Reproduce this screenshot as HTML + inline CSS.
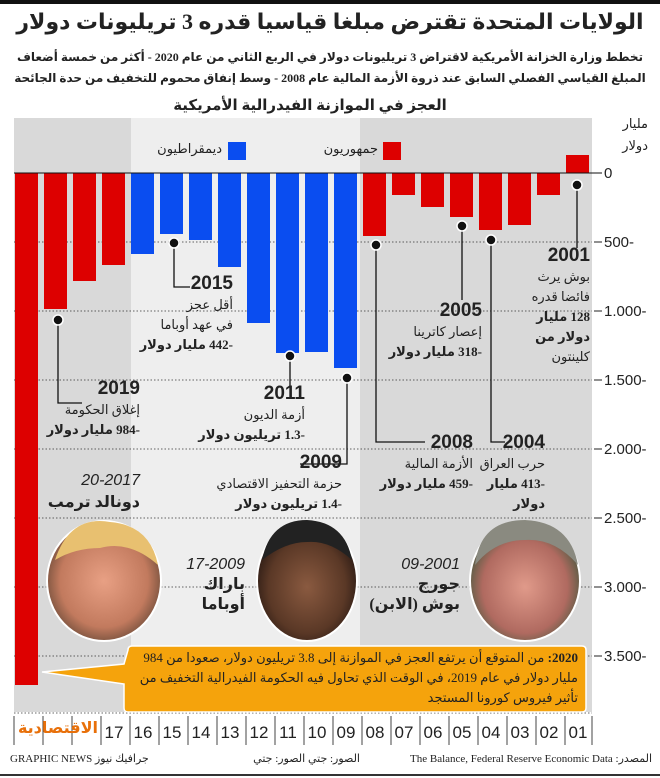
<!DOCTYPE html>
<html><head><meta charset="utf-8"><style>
body{margin:0;background:#fff;}
#w{position:relative;width:660px;height:778px;overflow:hidden;font-family:"Liberation Serif","DejaVu Sans",serif;color:#222;}
.t{position:absolute;direction:rtl;white-space:nowrap;}
.b{font-weight:bold;}
.y{font-family:"Liberation Sans",sans-serif;font-weight:bold;font-size:19px;}
.n{font-size:13px;line-height:20px;}
</style></head><body><div id="w">
<svg width="660" height="778" style="position:absolute;left:0;top:0">
<rect x="0" y="0" width="660" height="4" fill="#111"/>
<rect x="14" y="118" width="578" height="594" fill="#d9d9d9"/>
<rect x="131" y="118" width="229" height="594" fill="#eeeeee"/>
<g stroke="#333" stroke-dasharray="1.5,2" stroke-width="0.8">
<line x1="14" x2="592" y1="242" y2="242"/><line x1="14" x2="592" y1="311" y2="311"/>
<line x1="14" x2="592" y1="380" y2="380"/><line x1="14" x2="592" y1="449" y2="449"/>
<line x1="14" x2="592" y1="518" y2="518"/><line x1="14" x2="592" y1="587" y2="587"/>
<line x1="14" x2="592" y1="656" y2="656"/>
<line x1="14" x2="592" y1="713" y2="713"/>
</g>
<g stroke="#222" stroke-width="1">
<line x1="594" x2="602" y1="242" y2="242"/><line x1="594" x2="602" y1="311" y2="311"/>
<line x1="594" x2="602" y1="380" y2="380"/><line x1="594" x2="602" y1="449" y2="449"/>
<line x1="594" x2="602" y1="518" y2="518"/><line x1="594" x2="602" y1="587" y2="587"/>
<line x1="594" x2="602" y1="656" y2="656"/>
</g>
<g id="bars">
<rect x="566" y="155" width="23" height="18" fill="#dd0000"/>
<rect x="537" y="173" width="23" height="22" fill="#dd0000"/>
<rect x="508" y="173" width="23" height="52" fill="#dd0000"/>
<rect x="479" y="173" width="23" height="57" fill="#dd0000"/>
<rect x="450" y="173" width="23" height="44" fill="#dd0000"/>
<rect x="421" y="173" width="23" height="34" fill="#dd0000"/>
<rect x="392" y="173" width="23" height="22" fill="#dd0000"/>
<rect x="363" y="173" width="23" height="63" fill="#dd0000"/>
<rect x="334" y="173" width="23" height="195" fill="#0a4df0"/>
<rect x="305" y="173" width="23" height="179" fill="#0a4df0"/>
<rect x="276" y="173" width="23" height="180" fill="#0a4df0"/>
<rect x="247" y="173" width="23" height="150" fill="#0a4df0"/>
<rect x="218" y="173" width="23" height="94" fill="#0a4df0"/>
<rect x="189" y="173" width="23" height="67" fill="#0a4df0"/>
<rect x="160" y="173" width="23" height="61" fill="#0a4df0"/>
<rect x="131" y="173" width="23" height="81" fill="#0a4df0"/>
<rect x="102" y="173" width="23" height="92" fill="#dd0000"/>
<rect x="73" y="173" width="23" height="108" fill="#dd0000"/>
<rect x="44" y="173" width="23" height="136" fill="#dd0000"/>
<rect x="15" y="173" width="23" height="512" fill="#dd0000"/>
</g>
<line x1="14" x2="602" y1="173" y2="173" stroke="#111" stroke-width="1"/>
<rect x="228" y="142" width="18" height="18" fill="#0a4df0"/>
<rect x="383" y="142" width="18" height="18" fill="#dd0000"/>
<g stroke="#111" stroke-width="1.3" fill="none">
<polyline points="577,185 577,248"/>
<polyline points="462,226 462,300"/>
<polyline points="491,240 491,442 505,442"/>
<polyline points="376,245 376,442 425,442"/>
<polyline points="347,378 347,464 300,464"/>
<polyline points="290,356 290,386"/>
<polyline points="174,243 174,287 190,287"/>
<polyline points="58,320 58,403 82,403"/>
</g>
<g fill="#111" stroke="#fff" stroke-width="1.5">
<circle cx="577" cy="185" r="5"/><circle cx="462" cy="226" r="5"/><circle cx="491" cy="240" r="5"/>
<circle cx="376" cy="245" r="5"/><circle cx="347" cy="378" r="5"/><circle cx="290" cy="356" r="5"/>
<circle cx="174" cy="243" r="5"/><circle cx="58" cy="320" r="5"/>
</g>
<defs>
<radialGradient id="fT" cx="50%" cy="50%" r="55%"><stop offset="0" stop-color="#e8a084"/><stop offset="0.7" stop-color="#c27a5e"/><stop offset="1" stop-color="#6a4a38"/></radialGradient>
<radialGradient id="fO" cx="50%" cy="55%" r="55%"><stop offset="0" stop-color="#8a5a40"/><stop offset="0.7" stop-color="#5a3826"/><stop offset="1" stop-color="#2a1a14"/></radialGradient>
<radialGradient id="fB" cx="50%" cy="55%" r="55%"><stop offset="0" stop-color="#e09a8a"/><stop offset="0.7" stop-color="#b06a60"/><stop offset="1" stop-color="#4a5a40"/></radialGradient>
</defs>
<ellipse cx="104" cy="581" rx="57" ry="60" fill="url(#fT)" stroke="#fff" stroke-width="2"/>
<path d="M55 560 Q70 515 110 522 Q150 525 158 565 Q130 540 100 548 Q75 548 55 560Z" fill="#e8c070"/>
<ellipse cx="307" cy="581" rx="50" ry="60" fill="url(#fO)" stroke="#fff" stroke-width="2"/>
<path d="M262 560 Q270 520 307 520 Q345 522 352 560 Q330 540 307 542 Q285 542 262 560Z" fill="#222"/>
<ellipse cx="525" cy="581" rx="55" ry="60" fill="url(#fB)" stroke="#fff" stroke-width="2"/>
<path d="M475 565 Q480 520 525 520 Q570 522 578 565 Q555 538 525 540 Q495 540 475 565Z" fill="#8a8a80"/>
<path d="M128 650 Q128 646 132 646 L582 646 Q586 646 586 650 L586 708 Q586 712 582 712 L128 712 Q124 712 124 708 L124 684 L42 672 L124 664 Z" fill="#f5a30c" stroke="#fff" stroke-width="1.5"/>
<g stroke="#444" stroke-width="1">
<line x1="14" x2="14" y1="716" y2="745"/><line x1="43" x2="43" y1="716" y2="745"/><line x1="72" x2="72" y1="716" y2="745"/>
<line x1="101" x2="101" y1="716" y2="745"/><line x1="130" x2="130" y1="716" y2="745"/><line x1="159" x2="159" y1="716" y2="745"/>
<line x1="188" x2="188" y1="716" y2="745"/><line x1="217" x2="217" y1="716" y2="745"/><line x1="246" x2="246" y1="716" y2="745"/>
<line x1="275" x2="275" y1="716" y2="745"/><line x1="304" x2="304" y1="716" y2="745"/><line x1="333" x2="333" y1="716" y2="745"/>
<line x1="362" x2="362" y1="716" y2="745"/><line x1="391" x2="391" y1="716" y2="745"/><line x1="420" x2="420" y1="716" y2="745"/>
<line x1="449" x2="449" y1="716" y2="745"/><line x1="478" x2="478" y1="716" y2="745"/><line x1="507" x2="507" y1="716" y2="745"/>
<line x1="536" x2="536" y1="716" y2="745"/><line x1="565" x2="565" y1="716" y2="745"/><line x1="592" x2="592" y1="716" y2="745"/>
</g>
<line x1="0" x2="660" y1="775" y2="775" stroke="#333" stroke-width="2"/>
<g font-family="Liberation Sans, sans-serif" font-size="17" fill="#222" text-anchor="middle">
<text x="578" y="738">01</text><text x="549" y="738">02</text><text x="520" y="738">03</text><text x="491" y="738">04</text>
<text x="462" y="738">05</text><text x="433" y="738">06</text><text x="404" y="738">07</text><text x="375" y="738">08</text>
<text x="346" y="738">09</text><text x="317" y="738">10</text><text x="288" y="738">11</text><text x="259" y="738">12</text>
<text x="230" y="738">13</text><text x="201" y="738">14</text><text x="172" y="738">15</text><text x="143" y="738">16</text>
<text x="114" y="738">17</text>
</g>
<g font-family="Liberation Sans, sans-serif" font-size="15" fill="#222">
<text x="604" y="178">0</text><text x="604" y="247">500-</text><text x="604" y="316">1.000-</text>
<text x="604" y="385">1.500-</text><text x="604" y="454">2.000-</text><text x="604" y="523">2.500-</text>
<text x="604" y="592">3.000-</text><text x="604" y="661">3.500-</text>
</g>
</svg>
<div class="t b" style="left:0;width:660px;top:6px;text-align:center;font-size:22px;line-height:32px;">الولايات المتحدة تقترض مبلغا قياسيا قدره 3 تريليونات دولار</div>
<div class="t b" style="left:4px;width:652px;top:47px;text-align:center;font-size:12px;line-height:21px;white-space:normal;">تخطط وزارة الخزانة الأمريكية لاقتراض 3 تريليونات دولار في الربع الثاني من عام 2020 - أكثر من خمسة أضعاف المبلغ القياسي الفصلي السابق عند ذروة الأزمة المالية عام 2008 - وسط إنفاق محموم للتخفيف من حدة الجائحة</div>
<div class="t b" style="left:160px;width:300px;top:96px;text-align:center;font-size:15px;">العجز في الموازنة الفيدرالية الأمريكية</div>
<div class="t" style="left:600px;width:48px;top:113px;text-align:right;line-height:22px;font-size:13px;">مليار<br>دولار</div>
<div class="t" style="left:140px;width:82px;top:141px;text-align:right;font-size:13px;">ديمقراطيون</div>
<div class="t" style="left:300px;width:78px;top:141px;text-align:right;font-size:13px;">جمهوريون</div>

<div class="t" style="left:520px;width:70px;top:245px;text-align:right;"><div class="y">2001</div><div class="n">بوش يرث<br>فائضا قدره<br><b>128 مليار<br>دولار من</b><br>كلينتون</div></div>
<div class="t" style="left:380px;width:102px;top:300px;text-align:right;"><div class="y">2005</div><div class="n">إعصار كاترينا<br><b>-318 مليار دولار</b></div></div>
<div class="t" style="left:470px;width:75px;top:432px;text-align:right;"><div class="y">2004</div><div class="n">حرب العراق<br><b>-413 مليار<br>دولار</b></div></div>
<div class="t" style="left:360px;width:113px;top:432px;text-align:right;"><div class="y">2008</div><div class="n">الأزمة المالية<br><b>-459 مليار دولار</b></div></div>
<div class="t" style="left:190px;width:152px;top:452px;text-align:right;"><div class="y">2009</div><div class="n">حزمة التحفيز الاقتصادي<br><b>-1.4 تريليون دولار</b></div></div>
<div class="t" style="left:180px;width:125px;top:383px;text-align:right;"><div class="y">2011</div><div class="n">أزمة الديون<br><b>-1.3 تريليون دولار</b></div></div>
<div class="t" style="left:110px;width:123px;top:273px;text-align:right;"><div class="y">2015</div><div class="n">أقل عجز<br>في عهد أوباما<br><b>-442 مليار دولار</b></div></div>
<div class="t" style="left:30px;width:110px;top:378px;text-align:right;"><div class="y">2019</div><div class="n">إغلاق الحكومة<br><b>-984 مليار دولار</b></div></div>
<div class="t" style="left:40px;width:100px;top:470px;text-align:right;font-size:16px;line-height:22px;"><i style="font-family:'Liberation Sans',sans-serif">20-2017</i><br><b>دونالد ترمب</b></div>
<div class="t" style="left:165px;width:80px;top:555px;text-align:right;font-size:16px;line-height:20px;"><i style="font-family:'Liberation Sans',sans-serif">17-2009</i><br><b>باراك<br>أوباما</b></div>
<div class="t" style="left:360px;width:100px;top:555px;text-align:right;font-size:16px;line-height:20px;"><i style="font-family:'Liberation Sans',sans-serif">09-2001</i><br><b>جورج<br>بوش (الابن)</b></div>
<div class="t" style="left:130px;width:448px;top:648px;text-align:right;font-size:13px;line-height:20px;white-space:normal;"><b>2020:</b> من المتوقع أن يرتفع العجز في الموازنة إلى 3.8 تريليون دولار، صعودا من 984 مليار دولار في عام 2019، في الوقت الذي تحاول فيه الحكومة الفيدرالية التخفيف من تأثير فيروس كورونا المستجد</div>
<div class="t b" style="left:14px;width:88px;top:718px;text-align:center;font-size:16px;color:#e8700a;">الاقتصادية</div>
<div class="t" style="left:380px;width:272px;top:752px;text-align:right;font-size:11px;">المصدر: The Balance, Federal Reserve Economic Data</div>
<div class="t" style="left:230px;width:130px;top:752px;text-align:right;font-size:11px;">الصور: جتي الصور: جتي</div>
<div class="t" style="left:10px;width:130px;top:752px;text-align:left;font-size:11px;direction:ltr;">GRAPHIC NEWS جرافيك نيوز</div>
</div></body></html>
